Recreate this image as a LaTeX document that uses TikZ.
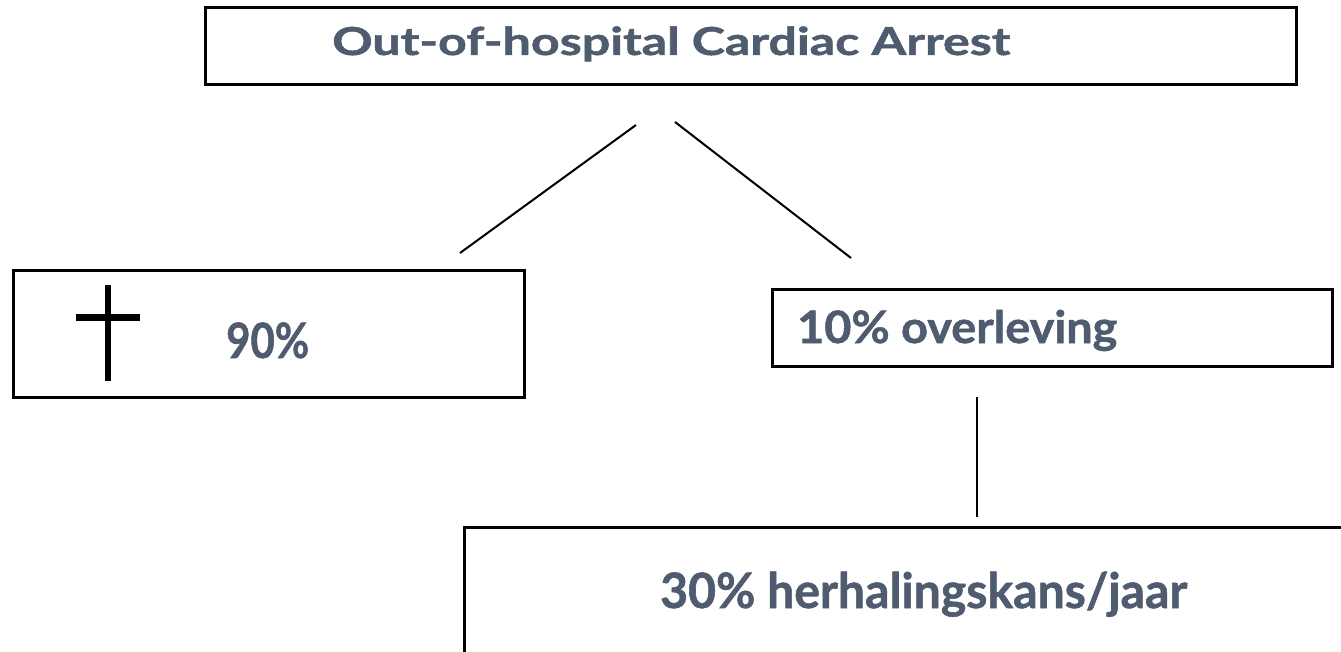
\documentclass[tikz,border=0pt]{standalone}
\usepackage{graphicx}
\usepackage{fontspec}
\setmainfont{Lato}[BoldFeatures={FakeBold=1.2}]
\definecolor{txtc}{RGB}{79,91,110}
\newlength{\fitlen}
\newcommand{\fitto}[2]{\settowidth{\fitlen}{#2}\pgfmathsetmacro{\fitsx}{#1/\fitlen}\scalebox{\fitsx}[1]{#2}}
\begin{document}
\begin{tikzpicture}[x=1pt,y=-1pt,
  box/.style={draw=black, line width=3pt, anchor=north west, inner sep=0pt},
  lbl/.style={anchor=base west, inner sep=0pt, text=txtc},
  conn/.style={draw=black, line width=2pt},
  crossline/.style={draw=black, line cap=butt}]
\useasboundingbox (0,0) rectangle (1341,652);
\clip (0,0) rectangle (1341,652);
% boxes
\node[box, minimum width=1091pt, minimum height=77pt] (topbox) at (204,6) {};
\node[box, minimum width=511pt, minimum height=127pt] (leftbox) at (12,269) {};
\node[box, minimum width=560pt, minimum height=77pt] (rightbox) at (771,288) {};
\node[box, line width=2.5pt, minimum width=1000pt, minimum height=300pt] (bottombox) at (463,526) {};
% texts
\node[lbl, font=\fontsize{38.5}{46}\selectfont\bfseries] (title) at (332,55) {\fitto{678}{Out-of-hospital Cardiac Arrest}};
\node[lbl, font=\fontsize{48.8}{58}\selectfont\bfseries] (t90) at (226,358) {\fitto{83}{90\%}};
\node[lbl, font=\fontsize{44.7}{54}\selectfont\bfseries] (t10) at (797,343) {\fitto{320}{10\% overleving}};
\node[lbl, font=\fontsize{48.8}{58}\selectfont\bfseries] (t30) at (660,608) {\fitto{527}{30\% herhalingskans/jaar}};
% cross
\coordinate (cvt) at (108,285);
\coordinate (cvb) at (108,381);
\coordinate (chl) at (76,317);
\coordinate (chr) at (140,317);
\draw[crossline, line width=6pt] (cvt) -- (cvb);
\draw[crossline, line width=7pt] (chl) -- (chr);
% connectors
\coordinate (l1a) at (636,125);
\coordinate (l1b) at (460,253);
\coordinate (l2a) at (675,122);
\coordinate (l2b) at (851,258);
\coordinate (l3a) at (977,397);
\coordinate (l3b) at (977,517);
\draw[conn] (l1a) -- (l1b);
\draw[conn] (l2a) -- (l2b);
\draw[conn] (l3a) -- (l3b);
\end{tikzpicture}
\end{document}
